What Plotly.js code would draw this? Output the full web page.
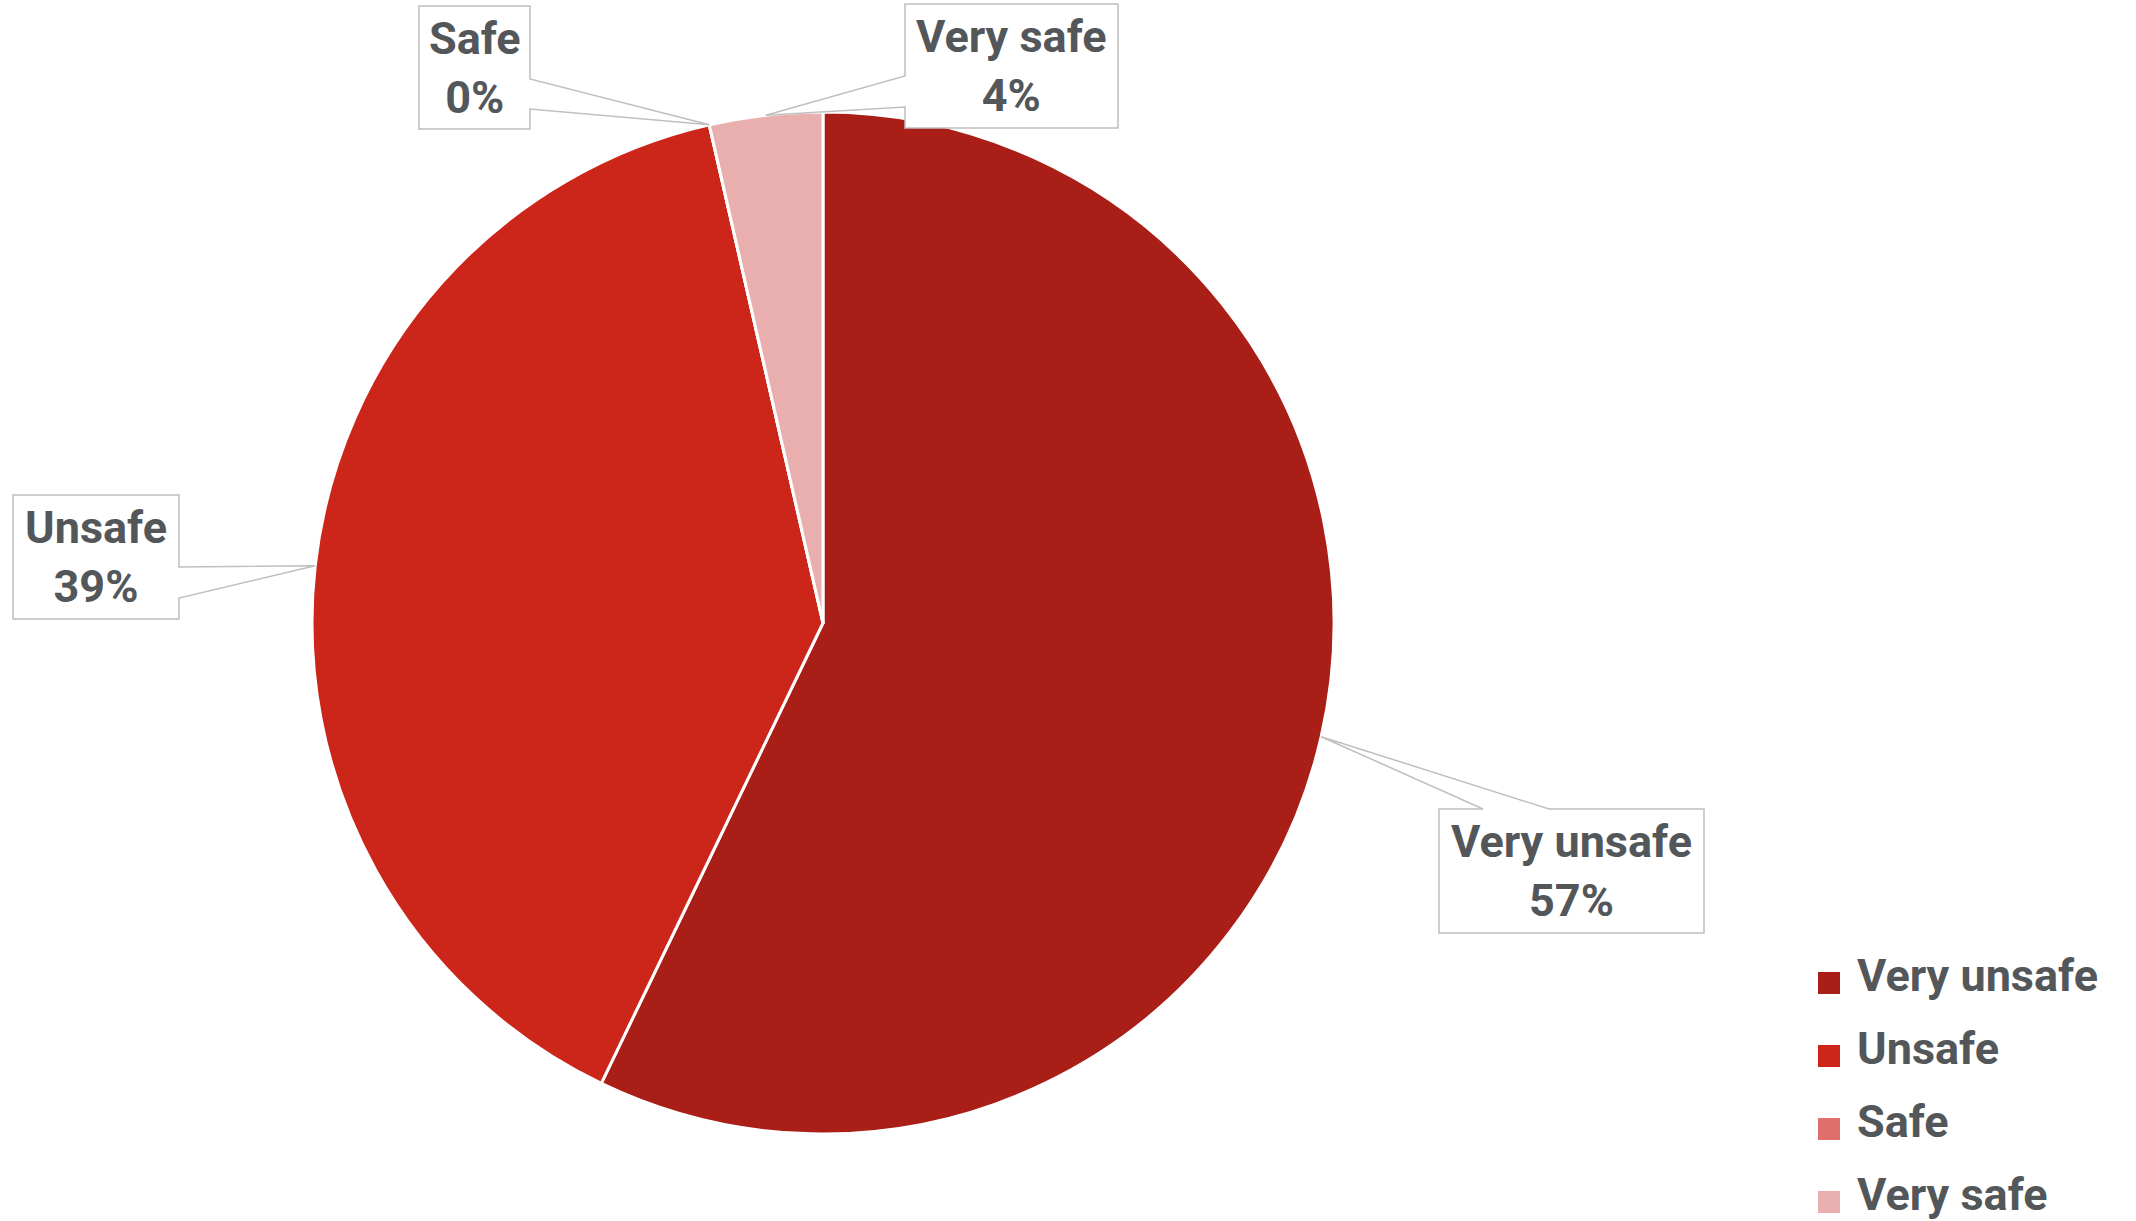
<!DOCTYPE html>
<html>
<head>
<meta charset="utf-8">
<script src="https://cdn.plot.ly/plotly-3.0.1.min.js"></script>
<style>
  html, body { margin: 0; padding: 0; background: #ffffff; }
  #chart { width: 2136px; height: 1221px; }
</style>
</head>
<body>
<div id="chart"></div>
<script>
// ---- data ----
const categories = ["Very unsafe", "Unsafe", "Safe", "Very safe"];
const counts = [16, 11, 0, 1];
const colors = ["#A91E16", "#CC2519", "#E06E6C", "#E8AFAE"];

// ---- layout constants (pixels) ----
const W = 2136, H = 1221;
const pieCx = 823, pieCy = 623, pieR = 511;
const textColor = "#53575A";
const lineColor = "#BFBFBF";
const fontFam = "Roboto, 'Open Sans', sans-serif";
const fontSize = 45;
const fontWeight = 700;

// label boxes: box rect and where the wedge attaches
const boxes = [
  {L: 1439, T: 809, R: 1704, B: 933, side: "top", a: 1483, b: 1549},   // Very unsafe
  {L: 13,   T: 495, R: 179,  B: 619, side: "right", a: 567, b: 598},   // Unsafe
  {L: 419,  T: 6,   R: 530,  B: 129, side: "right", a: 79,  b: 109},   // Safe
  {L: 905,  T: 4,   R: 1118, B: 128, side: "left",  a: 76,  b: 107}    // Very safe
];

const px = x => x / W;
const py = y => 1 - y / H;
const P = (x, y) => px(x).toFixed(5) + "," + py(y).toFixed(5);

const total = counts.reduce((s, v) => s + v, 0);

// tip points at the middle of each slice on the rim (clockwise from 12 o'clock)
let cum = 0;
const tips = counts.map(v => {
  const mid = (cum + v / 2) / total * 2 * Math.PI;
  cum += v;
  return [pieCx + pieR * Math.sin(mid), pieCy - pieR * Math.cos(mid)];
});

const shapes = [];
const annotations = [];
boxes.forEach((bx, i) => {
  const [tx, ty] = tips[i];
  let d;
  if (bx.side === "right") {
    d = "M" + P(bx.L, bx.T) + " L" + P(bx.R, bx.T) + " L" + P(bx.R, bx.a) +
        " L" + P(tx, ty) + " L" + P(bx.R, bx.b) + " L" + P(bx.R, bx.B) +
        " L" + P(bx.L, bx.B) + " Z";
  } else if (bx.side === "left") {
    d = "M" + P(bx.L, bx.T) + " L" + P(bx.R, bx.T) + " L" + P(bx.R, bx.B) +
        " L" + P(bx.L, bx.B) + " L" + P(bx.L, bx.b) + " L" + P(tx, ty) +
        " L" + P(bx.L, bx.a) + " Z";
  } else {
    d = "M" + P(bx.L, bx.T) + " L" + P(bx.a, bx.T) + " L" + P(tx, ty) +
        " L" + P(bx.b, bx.T) + " L" + P(bx.R, bx.T) + " L" + P(bx.R, bx.B) +
        " L" + P(bx.L, bx.B) + " Z";
  }
  shapes.push({type: "path", xref: "paper", yref: "paper", path: d,
               fillcolor: "#ffffff", line: {color: lineColor, width: 1.5}, layer: "above"});
  const pct = Math.round(counts[i] / total * 100) + "%";
  annotations.push({
    xref: "paper", yref: "paper", x: px((bx.L + bx.R) / 2), y: py((bx.T + bx.B) / 2),
    xanchor: "center", yanchor: "middle", showarrow: false, align: "center",
    text: categories[i] + "<br>" + pct,
    font: {family: fontFam, size: fontSize, color: textColor, weight: fontWeight}
  });
});

// manual legend (bottom right)
const legX = 1818, legSq = 22, legTextX = 1855;
const legY0 = 983, legStep = 73;
categories.forEach((c, i) => {
  const cy = legY0 + i * legStep;
  shapes.push({type: "rect", xref: "paper", yref: "paper",
    x0: px(legX), x1: px(legX + legSq), y0: py(cy - legSq / 2), y1: py(cy + legSq / 2),
    fillcolor: colors[i], line: {width: 0}});
  annotations.push({xref: "paper", yref: "paper", x: px(legTextX), y: py(cy - 8),
    xanchor: "left", yanchor: "middle", showarrow: false, text: c,
    font: {family: fontFam, size: fontSize, color: textColor, weight: fontWeight}});
});

const trace = {
  type: "pie",
  labels: categories,
  values: counts,
  sort: false,
  direction: "clockwise",
  rotation: 0,
  textinfo: "none",
  hoverinfo: "label+percent",
  marker: {colors: colors, line: {color: "#ffffff", width: 3}},
  domain: {x: [px(pieCx - pieR), px(pieCx + pieR)], y: [py(pieCy + pieR), py(pieCy - pieR)]},
  showlegend: false
};

const layout = {
  width: W, height: H,
  margin: {l: 0, r: 0, t: 0, b: 0},
  paper_bgcolor: "#ffffff",
  showlegend: false,
  shapes: shapes,
  annotations: annotations,
  font: {family: fontFam, color: textColor}
};

Plotly.newPlot("chart", [trace], layout, {displayModeBar: false, staticPlot: true});
</script>
</body>
</html>
